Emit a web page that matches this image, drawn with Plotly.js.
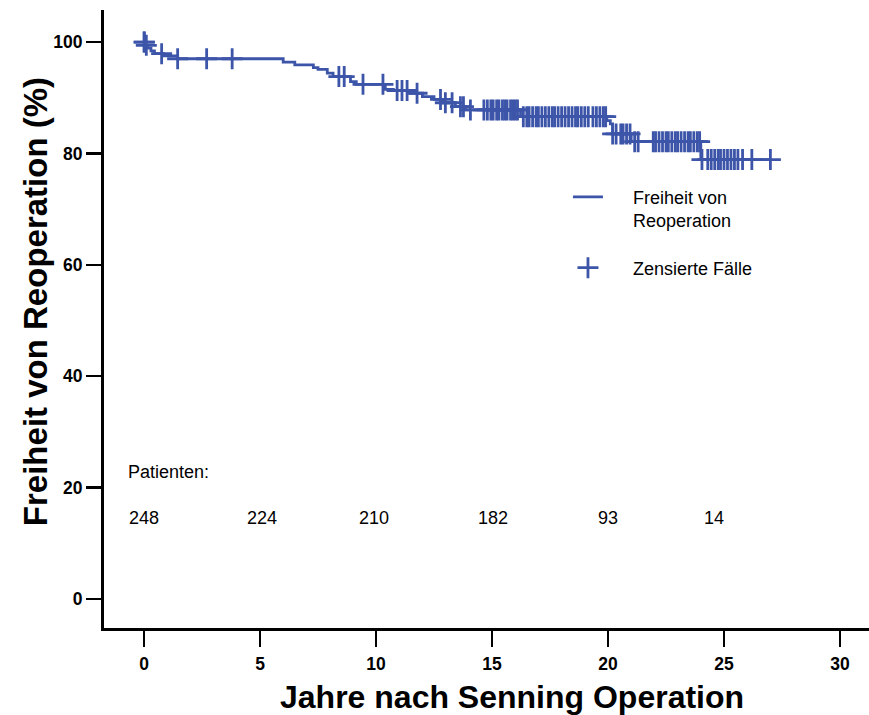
<!DOCTYPE html>
<html>
<head>
<meta charset="utf-8">
<script src="https://cdn.plot.ly/plotly-3.0.1.min.js"></script>
<style>
  html, body { margin: 0; padding: 0; background: #ffffff; }
  #chart { width: 869px; height: 715px; }
</style>
</head>
<body>
<div id="chart"></div>
<script>
// Kaplan-Meier estimate: freedom from reoperation after the Senning operation
const stepYears = [0, 0.05, 0.15, 0.3, 0.45, 0.85, 1.45, 6.0, 6.5, 7.3, 7.5, 7.9, 8.15, 8.9, 9.15,
  10.4, 10.75, 11.48, 12.0, 12.5, 12.9, 13.42, 13.85, 16.23, 19.95, 20.1, 20.2, 21.0, 24.0, 27.0];
const survival = [100, 99.4, 98.9, 98.4, 97.9, 97.5, 97.0, 96.4, 95.9, 95.4, 95.1, 94.4, 93.8, 92.9, 92.4,
  91.5, 91.3, 90.8, 90.2, 89.7, 89.1, 88.4, 87.8, 86.6, 85.9, 85.3, 83.5, 82.1, 78.9, 78.9];

// Censored observations (years of follow-up)
const censoredYears = [0, 0.02, 0.1, 0.76, 1.45, 2.7, 3.8, 8.4, 8.63, 9.44, 10.3, 10.91, 11.12, 11.34, 11.77,
  12.78, 12.99, 13.28, 13.64, 13.77, 14.07,
  14.65, 14.8, 14.95, 15.05, 15.2, 15.3, 15.45, 15.55, 15.65, 15.8, 15.9, 16.0, 16.1,
  16.35, 16.5, 16.6, 16.75, 16.9, 17.0, 17.15, 17.3, 17.45, 17.6, 17.7, 17.85, 18.0, 18.15, 18.3,
  18.45, 18.6, 18.7, 18.85, 19.0, 19.15, 19.35, 19.5, 19.65, 19.8, 19.9,
  20.2, 20.35, 20.55, 20.65, 20.8, 20.95, 21.15, 21.3,
  21.95, 22.05, 22.2, 22.35, 22.5, 22.6, 22.75, 22.9, 23.0, 23.15, 23.3, 23.45, 23.55, 23.7, 23.85, 23.95,
  24.05, 24.3, 24.45, 24.6, 24.75, 24.85, 25.0, 25.15, 25.3, 25.45, 25.6, 25.8, 26.2, 27.0];

// Patients at risk
const atRiskYears = [0, 5, 10, 15, 20, 25];
const atRiskCounts = [248, 224, 210, 182, 93, 14];

const xTickValues = [0, 5, 10, 15, 20, 25, 30];
const yTickValues = [0, 20, 40, 60, 80, 100];

// survival level of the step curve at a given time
function survivalAt(t) {
  let s = survival[0];
  for (let i = 0; i < stepYears.length; i++) {
    if (stepYears[i] <= t) s = survival[i];
  }
  return s;
}

const blue = '#3d55a9';
const font = 'Liberation Sans, Arial, Helvetica, sans-serif';
const pad = '\u00a0\u00a0\u00a0\u00a0\u00a0';   // gap between legend symbol and label

const curve = {
  type: 'scatter',
  mode: 'lines',
  x: stepYears,
  y: survival,
  line: { shape: 'hv', color: blue, width: 2.8 },
  name: pad + 'Freiheit von<br>' + pad + 'Reoperation',
  legendgroup: 'curve',
  hoverinfo: 'skip'
};

const censored = {
  type: 'scatter',
  mode: 'markers',
  x: censoredYears,
  y: censoredYears.map(survivalAt),
  marker: { symbol: 'cross-thin', size: 15, color: blue, line: { color: blue, width: 2.8 } },
  name: pad + 'Zensierte Fälle',
  legendgroup: 'censored',
  hoverinfo: 'skip'
};

// small horizontal nudges of the at-risk labels
const atRiskShift = [0, 2, -2, 1, 0, -10];

const annotations = [
  {
    xref: 'paper', yref: 'paper', x: -0.090, y: 0.5275, xanchor: 'center', yanchor: 'middle',
    text: 'Freiheit von Reoperation (%)', textangle: -90, showarrow: false,
    font: { family: font, size: 33, color: '#000', weight: 'bold' }
  },
  {
    xref: 'paper', yref: 'paper', x: 0.533, y: -0.112, xanchor: 'center', yanchor: 'middle',
    text: 'Jahre nach Senning Operation', showarrow: false,
    font: { family: font, size: 32, color: '#000', weight: 'bold' }
  },
  {
    xref: 'x', yref: 'y', x: -0.78, y: 22.8, xanchor: 'left', yanchor: 'middle',
    text: 'Patienten:', showarrow: false,
    font: { family: font, size: 18, color: '#000' }
  }
].concat(atRiskYears.map((t, i) => ({
  xref: 'x', yref: 'y', x: t, y: 14.5, xanchor: 'center', yanchor: 'middle',
  xshift: atRiskShift[i],
  text: String(atRiskCounts[i]), showarrow: false,
  font: { family: font, size: 18, color: '#000' }
})));

const layout = {
  width: 869,
  height: 715,
  margin: { l: 104, r: 0, t: 10, b: 87 },
  paper_bgcolor: '#ffffff',
  plot_bgcolor: '#ffffff',
  showlegend: true,
  legend: {
    x: 0.6065, y: 0.727, xanchor: 'left', yanchor: 'top',
    bgcolor: 'rgba(0,0,0,0)', borderwidth: 0,
    font: { family: font, size: 18, color: '#000' },
    valign: 'top', tracegroupgap: 21
  },
  xaxis: {
    range: [-1.724, 31.25],
    tickvals: xTickValues,
    ticks: 'outside', ticklen: 16, tickwidth: 2.5, tickcolor: '#000',
    showline: true, linewidth: 3, linecolor: '#000',
    showgrid: false, zeroline: false,
    ticklabelstandoff: 2,
    tickfont: { family: font, size: 17.5, color: '#000', weight: 'bold' }
  },
  yaxis: {
    range: [-5.21, 105.75],
    tickvals: yTickValues,
    ticks: 'outside', ticklen: 15, tickwidth: 2.5, tickcolor: '#000',
    showline: true, linewidth: 3, linecolor: '#000',
    showgrid: false, zeroline: false,
    tickfont: { family: font, size: 17.5, color: '#000', weight: 'bold' }
  },
  annotations: annotations
};

Plotly.newPlot('chart', [curve, censored], layout, { displayModeBar: false, staticPlot: true });
</script>
</body>
</html>
